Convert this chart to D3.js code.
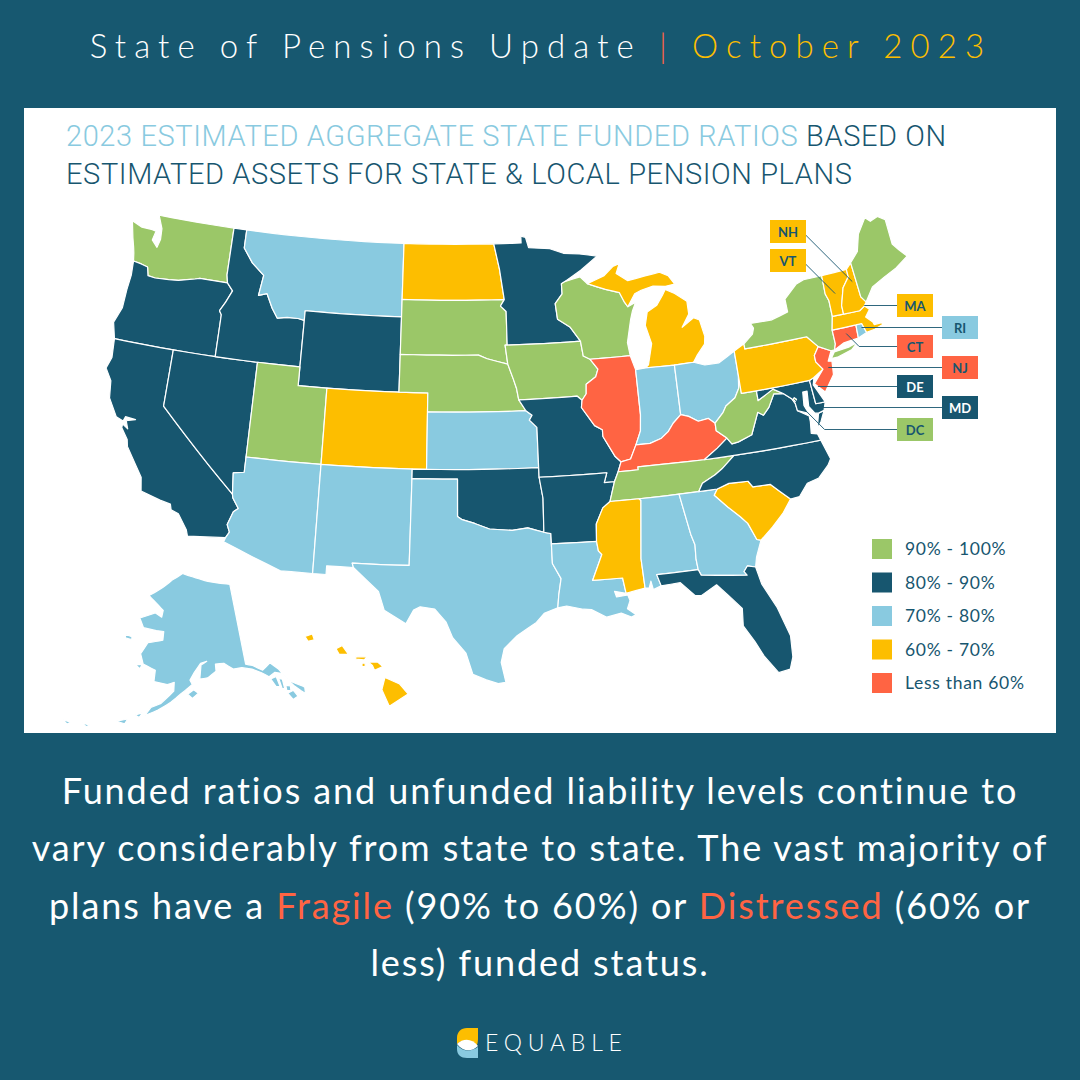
<!DOCTYPE html>
<html><head><meta charset="utf-8">
<script src="https://cdn.jsdelivr.net/npm/d3@7"></script>
<style>html,body{margin:0;padding:0;background:#175870}svg{display:block}text{font-family:Lato,sans-serif}</style>
</head><body><svg id="c" width="1080" height="1080"></svg>
<script>
const bandNames=["90% - 100%","80% - 90%","70% - 80%","60% - 70%","Less than 60%"];
const bandColors=["#9BC768","#17566F","#89CAE0","#FDBE00","#FF6443"];
const stateBands={WA:0,OR:1,CA:1,NV:1,ID:1,MT:2,WY:1,UT:0,CO:3,AZ:2,NM:2,ND:3,SD:0,NE:0,KS:2,OK:1,TX:2,MN:1,IA:0,MO:1,AR:1,LA:2,WI:0,IL:4,MI:3,IN:2,OH:2,KY:4,TN:0,MS:3,AL:2,GA:2,FL:1,SC:3,NC:1,VA:1,WV:0,MD:1,DE:1,PA:3,NJ:4,NY:0,CT:4,RI:2,MA:3,VT:3,NH:3,ME:0,DC:0,AK:2,HI:3};
const outlines={
WA:[[[-124.7,48.4],[-123.9,48.17],[-123.1,48.15],[-122.8,48.1],[-122.95,47.6],[-122.5,47.25],[-122.35,47.7],[-122.4,48.3],[-122.8,49],[-117.03,49],[-117.04,46.42],[-116.92,45.99],[-118.98,46],[-119.3,45.93],[-120.5,45.7],[-121.2,45.65],[-122.2,45.6],[-122.75,45.65],[-122.9,46.1],[-123.4,46.2],[-124,46.27],[-124.1,46.7],[-124.2,47],[-124.4,47.5]]],
OR:[[[-124,46.27],[-123.4,46.2],[-122.9,46.1],[-122.75,45.65],[-122.2,45.6],[-121.2,45.65],[-120.5,45.7],[-119.3,45.93],[-118.98,46],[-116.92,45.99],[-116.47,45.6],[-116.85,44.95],[-117.2,44.45],[-117.03,44.25],[-117.03,42],[-120,42],[-124.2,42],[-124.5,42.85],[-124.1,43.7],[-124.05,44.7],[-123.95,45.5]]],
CA:[[[-124.2,42],[-120,42],[-120,39],[-114.63,35],[-114.57,34.8],[-114.14,34.3],[-114.43,34.1],[-114.72,33.4],[-114.52,33.03],[-114.72,32.72],[-117.12,32.53],[-117.25,32.85],[-117.9,33.6],[-118.4,33.75],[-118.5,34.03],[-119.2,34.15],[-120.5,34.45],[-120.65,35.15],[-121.9,36.6],[-122,36.95],[-122.5,37.5],[-122.5,37.7],[-122.1,37.5],[-122.3,37.9],[-121.7,38.05],[-122.4,38.1],[-122.5,37.85],[-123,38],[-123.7,38.9],[-123.85,39.8],[-124.35,40.4],[-124.1,41]]],
NV:[[[-120,42],[-117.03,42],[-114.04,42],[-114.04,37],[-114.04,36.2],[-114.75,36.1],[-114.63,35],[-120,39]]],
ID:[[[-117.03,42],[-114.04,42],[-111.05,42],[-111.05,44.48],[-111.5,44.55],[-112.3,44.55],[-113,44.45],[-113.45,44.95],[-113.95,45.7],[-114.55,45.55],[-114.35,46.65],[-115.3,47.25],[-116.05,48],[-116.05,49],[-117.03,49],[-117.04,46.42],[-116.92,45.99],[-116.47,45.6],[-116.85,44.95],[-117.2,44.45],[-117.03,44.25]]],
MT:[[[-116.05,49],[-104.05,49],[-104.05,45.94],[-104.05,45],[-111.05,45],[-111.05,44.48],[-111.5,44.55],[-112.3,44.55],[-113,44.45],[-113.45,44.95],[-113.95,45.7],[-114.55,45.55],[-114.35,46.65],[-115.3,47.25],[-116.05,48]]],
WY:[[[-111.05,45],[-104.05,45],[-104.05,43],[-104.05,41],[-111.05,41],[-111.05,42],[-111.05,44.48]]],
UT:[[[-114.04,42],[-111.05,42],[-111.05,41],[-109.05,41],[-109.05,37],[-114.04,37]]],
CO:[[[-109.05,41],[-104.05,41],[-102.05,41],[-102.05,40],[-102.05,37],[-103,37],[-109.05,37]]],
AZ:[[[-114.04,37],[-109.05,37],[-109.05,31.33],[-111.07,31.33],[-114.81,32.5],[-114.72,32.72],[-114.52,33.03],[-114.72,33.4],[-114.43,34.1],[-114.14,34.3],[-114.57,34.8],[-114.63,35],[-114.75,36.1],[-114.04,36.2]]],
NM:[[[-109.05,37],[-103,37],[-103,36.5],[-103.04,32],[-106.62,32],[-106.53,31.78],[-108.21,31.78],[-108.21,31.33],[-109.05,31.33]]],
ND:[[[-104.05,49],[-97.23,49],[-96.85,47.6],[-96.56,45.94],[-104.05,45.94]]],
SD:[[[-104.05,45.94],[-96.56,45.94],[-96.85,45.6],[-96.45,45.3],[-96.45,43.5],[-96.6,43.5],[-96.45,42.49],[-97.9,42.8],[-98.5,43],[-104.05,43],[-104.05,45]]],
NE:[[[-104.05,43],[-98.5,43],[-97.9,42.8],[-96.45,42.49],[-96.1,41.7],[-95.9,41.2],[-95.77,40.58],[-95.31,40],[-102.05,40],[-102.05,41],[-104.05,41]]],
KS:[[[-102.05,40],[-95.31,40],[-94.9,39.75],[-95.1,39.5],[-94.61,39.1],[-94.62,37],[-102.05,37]]],
OK:[[[-103,37],[-102.05,37],[-94.62,37],[-94.62,36.5],[-94.43,35.4],[-94.48,33.64],[-95.5,33.9],[-96.5,33.8],[-97.2,33.85],[-97.95,33.9],[-98.9,34.2],[-99.7,34.4],[-100,34.56],[-100,36.5],[-103,36.5]]],
TX:[[[-103,36.5],[-100,36.5],[-100,34.56],[-99.7,34.4],[-98.9,34.2],[-97.95,33.9],[-97.2,33.85],[-96.5,33.8],[-95.5,33.9],[-94.48,33.64],[-94.04,33.55],[-94.04,33.02],[-94.04,32],[-93.55,31.2],[-93.75,30.35],[-93.85,29.7],[-94.7,29.45],[-95.2,29],[-96.4,28.35],[-97.2,27.7],[-97.4,27],[-97.15,25.96],[-97.6,25.9],[-98.3,26.1],[-99.1,26.4],[-99.5,27.5],[-100.3,28.3],[-100.7,29.1],[-101.4,29.77],[-102.3,29.88],[-102.7,29.7],[-103.15,28.98],[-104.5,29.65],[-104.9,30.6],[-106.53,31.78],[-106.62,32],[-103.04,32]]],
MN:[[[-97.23,49],[-95.15,49],[-95.15,49.38],[-94.8,49.3],[-94.6,48.72],[-93,48.6],[-92,48.3],[-90.8,48.2],[-89.5,48],[-90.8,47.3],[-92.05,46.75],[-92.3,46.65],[-92.3,46.1],[-92.85,45.6],[-92.75,44.75],[-91.9,44.3],[-91.22,43.5],[-96.45,43.5],[-96.45,45.3],[-96.85,45.6],[-96.56,45.94],[-96.85,47.6]]],
IA:[[[-96.45,43.5],[-91.22,43.5],[-91.1,42.7],[-90.64,42.5],[-90.15,41.95],[-90.35,41.55],[-91.05,41.2],[-91.1,40.7],[-91.42,40.38],[-91.73,40.61],[-95.77,40.58],[-95.9,41.2],[-96.1,41.7],[-96.45,42.49],[-96.6,43.5]]],
MO:[[[-95.77,40.58],[-91.73,40.61],[-91.42,40.38],[-91.5,40],[-90.7,39],[-90.2,38.75],[-90.2,38.4],[-89.5,37.3],[-89.15,37],[-89.4,36.5],[-89.7,36],[-90.37,36],[-90.15,36.5],[-94.62,36.5],[-94.62,37],[-94.61,39.1],[-95.1,39.5],[-94.9,39.75],[-95.31,40]]],
AR:[[[-94.62,36.5],[-90.15,36.5],[-90.37,36],[-89.7,36],[-90.1,35],[-90.6,34.7],[-91.1,33.9],[-91.17,33],[-94.04,33.02],[-94.04,33.55],[-94.48,33.64],[-94.43,35.4]]],
LA:[[[-94.04,33.02],[-91.17,33],[-91.1,32.5],[-90.9,32.3],[-91.6,31],[-89.73,31],[-89.6,30.2],[-90.3,30.35],[-90.2,30.05],[-89.5,30.1],[-89.4,29.8],[-89.6,29.4],[-89.1,29.05],[-89.4,28.95],[-90,29.2],[-90.9,29.05],[-91.8,29.5],[-92.3,29.55],[-93.3,29.77],[-93.85,29.7],[-93.75,30.35],[-93.55,31.2],[-94.04,32]]],
WI:[[[-92.05,46.75],[-90.9,46.95],[-90.4,46.55],[-89.1,46.15],[-88.1,45.9],[-87.8,45.35],[-87.6,45.1],[-87,45.3],[-87.3,44.85],[-87.5,44.4],[-87.9,43.2],[-87.8,42.49],[-90.64,42.5],[-91.1,42.7],[-91.22,43.5],[-91.9,44.3],[-92.75,44.75],[-92.85,45.6],[-92.3,46.1],[-92.3,46.65]]],
IL:[[[-90.64,42.5],[-87.8,42.49],[-87.53,41.72],[-87.53,39.35],[-87.65,38.5],[-88.05,37.8],[-88.5,37.1],[-89.15,37],[-89.5,37.3],[-90.2,38.4],[-90.2,38.75],[-90.7,39],[-91.5,40],[-91.42,40.38],[-91.1,40.7],[-91.05,41.2],[-90.35,41.55],[-90.15,41.95]]],
MI:[[[-86.82,41.76],[-84.8,41.72],[-83.45,41.73],[-83.15,42.05],[-82.5,42.6],[-82.4,43],[-82.6,43.9],[-83,44.07],[-83.9,43.65],[-83.3,44.3],[-83.3,45],[-84.1,45.5],[-84.75,45.78],[-85,45.5],[-85.5,45],[-86.25,44.7],[-86.5,44],[-86.2,43],[-86.6,41.9]],[[-90.4,46.55],[-89.1,46.9],[-88.4,47.35],[-87.9,47.47],[-88.2,46.95],[-87.4,46.5],[-86.1,46.65],[-85,46.75],[-84.4,46.5],[-84,46],[-84.7,45.95],[-85.6,46.05],[-86.5,45.9],[-87,45.75],[-87.6,45.1],[-87.8,45.35],[-88.1,45.9],[-89.1,46.15]]],
IN:[[[-87.53,41.72],[-86.82,41.76],[-84.8,41.72],[-84.82,39.1],[-85.4,38.7],[-85.8,38.3],[-86.3,38],[-87.1,37.8],[-88.05,37.8],[-87.65,38.5],[-87.53,39.35]]],
OH:[[[-84.8,41.72],[-83.45,41.73],[-82.7,41.5],[-81.7,41.5],[-80.52,41.98],[-80.52,40.64],[-80.65,40],[-81,39.55],[-81.7,39.2],[-81.95,38.9],[-82.6,38.4],[-83,38.7],[-83.7,38.63],[-84.3,38.95],[-84.82,39.1]]],
KY:[[[-89.15,37],[-88.5,37.1],[-88.05,37.8],[-87.1,37.8],[-86.3,38],[-85.8,38.3],[-85.4,38.7],[-84.82,39.1],[-84.3,38.95],[-83.7,38.63],[-83,38.7],[-82.6,38.4],[-82.6,38],[-81.97,37.54],[-82.7,37.1],[-83.67,36.6],[-86.5,36.65],[-88.07,36.65],[-88.07,36.5],[-89.4,36.5]]],
TN:[[[-90.1,35],[-88.2,35],[-85.6,35],[-84.32,35],[-84,35.4],[-83.1,35.75],[-82.6,36],[-81.68,36.59],[-83.67,36.6],[-86.5,36.65],[-88.07,36.65],[-88.07,36.5],[-89.4,36.5],[-89.7,36]]],
MS:[[[-91.17,33],[-91.1,33.9],[-90.6,34.7],[-90.1,35],[-88.2,35],[-88.1,34.9],[-88.47,31.9],[-88.4,30.37],[-89.6,30.2],[-89.73,31],[-91.6,31],[-90.9,32.3],[-91.1,32.5]]],
AL:[[[-88.2,35],[-85.6,35],[-85.18,32.87],[-85,32.3],[-85.05,31.55],[-85,31],[-87.6,31],[-87.4,30.4],[-87.9,30.25],[-88,30.7],[-88.15,30.35],[-88.4,30.37],[-88.47,31.9],[-88.1,34.9]]],
GA:[[[-85.6,35],[-84.32,35],[-83.1,35],[-83.35,34.7],[-82.6,34],[-81.9,33.4],[-81.5,33],[-81.1,32.1],[-80.85,32.03],[-81.3,31.2],[-81.45,30.71],[-81.95,30.83],[-82.2,30.57],[-82.05,30.36],[-84.86,30.7],[-85,31],[-85.05,31.55],[-85,32.3],[-85.18,32.87]]],
FL:[[[-87.6,31],[-85,31],[-84.86,30.7],[-82.05,30.36],[-82.2,30.57],[-81.95,30.83],[-81.45,30.71],[-81.25,29.8],[-80.55,28.45],[-80.05,26.9],[-80.13,25.8],[-80.4,25.2],[-81.1,25.12],[-81.8,26.1],[-82.2,26.9],[-82.75,27.8],[-82.65,28.7],[-83.4,29.5],[-84,30.1],[-85,29.65],[-85.4,29.7],[-86.2,30.45],[-87.4,30.4]]],
SC:[[[-83.35,34.7],[-83.1,35],[-82.3,35.2],[-81.05,35.15],[-80.8,34.82],[-79.67,34.8],[-78.55,33.86],[-79.2,33.2],[-80,32.6],[-80.85,32.03],[-81.1,32.1],[-81.5,33],[-81.9,33.4],[-82.6,34]]],
NC:[[[-84.32,35],[-83.1,35],[-82.3,35.2],[-81.05,35.15],[-80.8,34.82],[-79.67,34.8],[-78.55,33.86],[-77.95,33.9],[-77.3,34.5],[-76.5,34.65],[-75.75,35.2],[-75.5,35.5],[-75.87,36.55],[-81.68,36.59],[-82.6,36],[-83.1,35.75],[-84,35.4]]],
VA:[[[-83.67,36.6],[-81.68,36.59],[-75.87,36.55],[-76,36.9],[-76.4,37],[-76.3,37.6],[-76.3,37.9],[-77,38.3],[-77.05,38.7],[-77.2,38.95],[-77.72,39.32],[-78.35,39.4],[-78.85,38.75],[-79.3,38.4],[-79.65,38.6],[-80.3,37.5],[-81.25,37.25],[-81.7,37.2],[-81.97,37.54],[-82.7,37.1]],[[-75.95,37.15],[-75.65,37.95],[-75.25,38.03],[-75.6,37.5]]],
WV:[[[-82.6,38.4],[-81.95,38.9],[-81.7,39.2],[-81,39.55],[-80.65,40],[-80.52,40.64],[-80.52,39.72],[-79.48,39.72],[-79.48,39.2],[-78.35,39.65],[-77.72,39.32],[-78.35,39.4],[-78.85,38.75],[-79.3,38.4],[-79.65,38.6],[-80.3,37.5],[-81.25,37.25],[-81.7,37.2],[-81.97,37.54],[-82.6,38]]],
MD:[[[-79.48,39.72],[-75.79,39.72],[-75.7,38.46],[-75.05,38.45],[-75.25,38.03],[-75.65,37.95],[-75.9,38],[-76.2,38.4],[-76.1,39.2],[-76.4,39.2],[-76.5,38.5],[-76.3,38.05],[-77,38.3],[-77.05,38.7],[-77.2,38.95],[-77.72,39.32],[-78.35,39.65],[-79.48,39.2]]],
DE:[[[-75.79,39.72],[-75.45,39.82],[-75.6,39.45],[-75.4,39.1],[-75.05,38.45],[-75.7,38.46]]],
PA:[[[-80.52,41.98],[-79.76,42.27],[-79.76,42],[-75.35,42],[-74.7,41.36],[-75.1,40.95],[-75.1,40.6],[-74.72,40.15],[-75.45,39.82],[-75.79,39.72],[-80.52,39.72],[-80.52,40.64]]],
NJ:[[[-74.7,41.36],[-73.9,41],[-74.25,40.5],[-74,40.45],[-74.1,39.75],[-74.9,38.95],[-75.5,39.5],[-74.72,40.15],[-75.1,40.6],[-75.1,40.95]]],
NY:[[[-79.76,42.27],[-79.05,42.7],[-78.9,43],[-79.05,43.27],[-77.5,43.25],[-76.3,43.5],[-76.3,44.2],[-75.3,44.85],[-74.7,45],[-73.35,45],[-73.4,44],[-73.25,43.6],[-73.27,42.75],[-73.5,42.05],[-73.5,41.3],[-73.65,41],[-73.9,41],[-74.7,41.36],[-75.35,42],[-79.76,42]],[[-74,40.6],[-73.7,40.9],[-72.6,40.98],[-72,41.1],[-72.5,40.8],[-73.5,40.6]]],
CT:[[[-73.5,42.05],[-71.8,42.02],[-71.85,41.32],[-72.9,41.25],[-73.65,41],[-73.5,41.3]]],
RI:[[[-71.8,42.02],[-71.38,42.02],[-71.2,41.5],[-71.85,41.32]]],
MA:[[[-73.5,42.05],[-73.27,42.75],[-72.46,42.73],[-71.3,42.7],[-70.9,42.88],[-70.6,42.65],[-71,42.3],[-70.6,41.95],[-70.55,41.8],[-70,41.8],[-70.2,42.05],[-69.95,41.7],[-70.6,41.55],[-71.2,41.5],[-71.38,42.02],[-71.8,42.02]]],
VT:[[[-73.35,45],[-71.5,45.01],[-71.5,44.6],[-72.05,44.1],[-72.45,43.2],[-72.46,42.73],[-73.27,42.75],[-73.25,43.6],[-73.4,44]]],
NH:[[[-71.5,45.01],[-71.08,45.3],[-70.98,43.4],[-70.7,43.07],[-70.9,42.88],[-71.3,42.7],[-72.46,42.73],[-72.45,43.2],[-72.05,44.1],[-71.5,44.6]]],
ME:[[[-71.08,45.3],[-70.4,45.8],[-70,46.7],[-69.23,47.46],[-68.9,47.2],[-68.3,47.35],[-67.8,47.07],[-67.8,45.7],[-67.45,45.3],[-67,44.85],[-68,44.4],[-69,44.1],[-70,43.75],[-70.7,43.07],[-70.98,43.4]]],
DC:[[[-77.12,38.93],[-77.04,39],[-76.91,38.89],[-77.04,38.79]]],
AK:[[[-141,69.65],[-141,60.3],[-139.5,60],[-137.5,59.2],[-135.5,59.8],[-134,58.8],[-133,57.6],[-132,56.9],[-130.5,56.2],[-130,55.9],[-130.3,55.2],[-131,55.7],[-132,56.5],[-133,57.5],[-133.8,58.3],[-135,58.6],[-136.5,58.3],[-138,59],[-139.8,59.6],[-142,60],[-144,60],[-146,60.8],[-148,60.8],[-148,60],[-150,59.3],[-151.8,59.2],[-151.4,60.8],[-150,61.2],[-151.5,61],[-153,60],[-154,59.1],[-153.5,58.6],[-156,57.5],[-158,56.5],[-160.5,55.5],[-163,54.7],[-162,55.7],[-160,56.3],[-157.5,57.8],[-157.5,58.8],[-159,58.5],[-162,58.7],[-162,60],[-165,60.5],[-166,61.6],[-164.7,63],[-161,63.5],[-161,64.5],[-163,64.5],[-166.5,64.6],[-168,65.6],[-164,66.5],[-162,66.1],[-161.8,66.9],[-164,67.6],[-166.7,68.35],[-163.5,69.3],[-160,70.5],[-156.6,71.35],[-152,70.85],[-148,70.35]],[[-154.5,57.5],[-153.2,58],[-152.2,57.6],[-153.5,57]],[[-133.7,55.9],[-132.4,56],[-131.9,55.2],[-133,55]],[[-136.3,58],[-135,58.1],[-134.8,56.9],[-135.6,57]],[[-134.6,57.8],[-133.9,57.6],[-134,56.5],[-134.5,56.6]],[[-133.6,56.8],[-132.7,56.6],[-132.9,56.1],[-133.7,56.2]],[[-170.8,63.4],[-169,63.3],[-168.8,63],[-170.5,63]],[[-166.8,60.3],[-165.2,60.4],[-165.6,59.9]],[[-164.9,54.6],[-163.5,55],[-164,54.4]],[[-168.3,53.5],[-166.2,54],[-166.6,53.4]],[[-174.5,52.3],[-173,52.3],[-173.5,52]],[[-178,51.9],[-176.5,51.95],[-177,51.6]]],
HI:[[[-155.9,20.25],[-155.2,19.95],[-154.8,19.5],[-155.7,18.95],[-156.05,19.7]],[[-156.7,20.95],[-156.25,20.95],[-156,20.75],[-156.4,20.58],[-156.5,20.8]],[[-157.3,21.2],[-156.75,21.18],[-156.9,21.05],[-157.3,21.08]],[[-157,20.9],[-156.85,20.9],[-156.85,20.75],[-157,20.75]],[[-158.25,21.55],[-157.95,21.7],[-157.65,21.3],[-158.1,21.3]],[[-159.75,22.1],[-159.4,22.22],[-159.3,21.95],[-159.6,21.88]]]
};
const calloutStates=["NH","VT","MA","RI","CT","NJ","DE","MD","DC"];
const calloutAnchors={NH:[-71.3,44.3],VT:[-72.7,43.9],MA:[-71.0,42.6],RI:[-71.5,41.7],CT:[-72.6,41.7],NJ:[-74.3,40.3],DE:[-75.4,39.0],MD:[-75.6,38.2],DC:[-77.04,38.9]};
const straightLeaders=["MA","RI","NJ","DE","MD"];

const lower=d3.geoConicEqualArea().parallels([20,40]).rotate([94,0]).center([0,38]).scale(1092).translate([547,448]).angle(3);
const alaska=d3.geoConicEqualArea().parallels([55,65]).rotate([154,0]).center([0,63]).scale(500).translate([190,646]);
const hawaii=d3.geoConicEqualArea().parallels([8,18]).rotate([157,0]).center([0,20.5]).scale(1270).translate([362,672]);
const pathFor=id=>d3.geoPath(id==="AK"?alaska:id==="HI"?hawaii:lower);
function dense(ring){const o=[];ring.forEach((p,i)=>{const q=ring[(i+1)%ring.length];const n=Math.max(1,Math.ceil(Math.abs(q[0]-p[0])));for(let k=0;k<n;k++)o.push([p[0]+(q[0]-p[0])*k/n,p[1]+(q[1]-p[1])*k/n]);});return o;}
function feature(id){const polys=outlines[id].map(r=>{let c=dense(r);c.push(c[0]);if(d3.geoArea({type:"Polygon",coordinates:[c]})>2*Math.PI)c=c.slice().reverse();return [c];});return {type:"Feature",id,geometry:{type:"MultiPolygon",coordinates:polys}};}

const svg=d3.select("#c");
svg.append("rect").attr("width",1080).attr("height",1080).attr("fill","#175870");
svg.append("rect").attr("x",24).attr("y",108).attr("width",1032).attr("height",625).attr("fill","#fff");
const head=svg.append("text").attr("x",541).attr("y",58).attr("text-anchor","middle").attr("font-size",33).attr("letter-spacing",8.1).attr("font-weight",300);
head.append("tspan").attr("fill","#fff").text("State of Pensions Update ");
head.append("tspan").attr("fill","#FF6443").text("| ");
head.append("tspan").attr("fill","#FDBE00").text("October 2023");
const tf="Roboto,sans-serif";
const t1=svg.append("text").attr("x",66).attr("y",146).style("font-family",tf).attr("font-size",29).attr("font-weight",300).attr("letter-spacing",0.6);
t1.append("tspan").attr("fill","#89CAE0").text("2023 ESTIMATED AGGREGATE STATE FUNDED RATIOS ");
t1.append("tspan").attr("fill","#17566F").text("BASED ON");
svg.append("text").attr("x",66).attr("y",184).style("font-family",tf).attr("font-size",29).attr("font-weight",300).attr("letter-spacing",0.6).attr("fill","#17566F").text("ESTIMATED ASSETS FOR STATE & LOCAL PENSION PLANS");

svg.append("g").selectAll("path").data(Object.keys(outlines).map(feature)).join("path")
 .attr("d",d=>pathFor(d.id)(d)).attr("fill",d=>bandColors[stateBands[d.id]]).attr("stroke","#fff").attr("stroke-width",1.2).attr("stroke-linejoin","round");

const legendY=d3.scalePoint().domain(bandNames).range([549,683]);
const lg=svg.append("g").selectAll("g").data(bandNames).join("g").attr("transform",d=>`translate(872,${legendY(d)})`);
lg.append("rect").attr("y",-10).attr("width",20).attr("height",20).attr("fill",(d,i)=>bandColors[i]);
lg.append("text").attr("x",33).attr("y",6).attr("font-size",17.5).attr("letter-spacing",0.7).attr("fill","#17566F").text(d=>d);

const calloutX={NH:770,VT:770,MA:897,RI:942,CT:897,NJ:942,DE:897,MD:942,DC:897};
const calloutY={NH:220,VT:249,MA:294,RI:316,CT:335,NJ:356,DE:375,MD:396,DC:418};
const co=svg.append("g").selectAll("g").data(calloutStates).join("g");
co.append("path").attr("fill","none").attr("stroke","#17566F").attr("stroke-width",0.9).attr("d",d=>{
 const left=calloutX[d]<800,y=calloutY[d]+11.5,x0=left?calloutX[d]+36:calloutX[d];
 const [tx,ty]=lower(calloutAnchors[d]);
 if(straightLeaders.includes(d))return `M${x0},${y}L${tx},${y}`;
 const dy=Math.abs(ty-y),ex=left?tx-dy:tx+dy;
 return `M${x0},${y}L${ex},${y}L${tx},${ty}`;});
co.append("rect").attr("x",d=>calloutX[d]).attr("y",d=>calloutY[d]).attr("width",36).attr("height",23).attr("fill",d=>bandColors[stateBands[d]]);
co.append("text").attr("x",d=>calloutX[d]+18).attr("y",d=>calloutY[d]+16.5).attr("text-anchor","middle").attr("font-size",13).attr("font-weight",700).attr("fill",d=>(stateBands[d]===1?"#fff":"#17566F")).text(d=>d);

const body=[["Funded ratios and unfunded liability levels continue to"],["vary considerably from state to state. The vast majority of"],["plans have a ",["Fragile"]," (90% to 60%) or ",["Distressed"]," (60% or"],["less) funded status."]];
body.forEach((line,i)=>{const t=svg.append("text").attr("x",540).attr("y",804+i*57.3).attr("text-anchor","middle").attr("font-size",36).attr("letter-spacing",1.9).attr("fill","#fff");
 line.forEach(s=>{if(Array.isArray(s))t.append("tspan").attr("fill","#FF6443").text(s[0]);else t.append("tspan").text(s);});});

const logo=svg.append("g").attr("transform","translate(457,1028)");
logo.append("path").attr("fill","#FDBE00").attr("d","M0,16V10C0,4 4,0 10,0H21V10C21,15 20,18 19,18C14,11 5,11 0,16Z");
logo.append("path").attr("fill","#89CAE0").attr("d","M0,17V21C0,27 4,30 10,30H21V19C14,24 6,24 0,17Z");
logo.append("path").attr("fill","#fff").attr("d","M0,16C6,10 15,10 21,18C15,24 6,24 0,16Z");
svg.append("text").attr("x",485).attr("y",1051).attr("font-size",23).attr("letter-spacing",5.8).attr("font-weight",300).attr("fill","#fff").text("EQUABLE");
</script></body></html>
